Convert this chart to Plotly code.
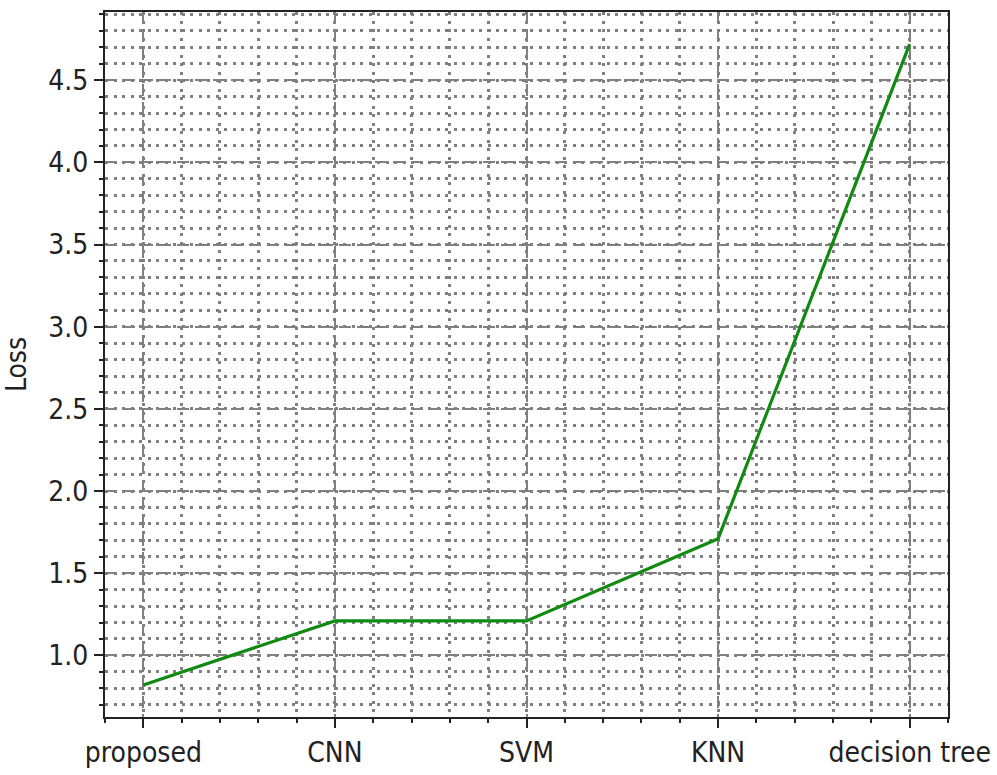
import plotly.graph_objects as go

# Loss per model
models = ["proposed", "CNN", "SVM", "KNN", "decision tree"]
loss = [0.82, 1.21, 1.21, 1.71, 4.72]
y_ticks = [1.0, 1.5, 2.0, 2.5, 3.0, 3.5, 4.0, 4.5]

x_pos = list(range(len(models)))

# matplotlib-style 5% padding around the data
x_pad = 0.05 * (x_pos[-1] - x_pos[0])
y_pad = 0.05 * (max(loss) - min(loss))
x_range = [x_pos[0] - x_pad, x_pos[-1] + x_pad]
y_range = [min(loss) - y_pad, max(loss) + y_pad]

FONT = "DejaVu Sans Condensed, DejaVu Sans"
GRID = "#808080"
INK = "#222222"

fig = go.Figure()
fig.add_trace(go.Scatter(
    x=x_pos, y=loss, mode="lines",
    line=dict(color="#108a10", width=3.2),
    showlegend=False,
))

axis_common = dict(
    showline=True, linecolor=INK, linewidth=2, mirror=True,
    ticks="outside", ticklen=9, tickwidth=1.5, tickcolor=INK,
    showgrid=True, gridcolor=GRID, gridwidth=2, griddash="12px,6px",
    zeroline=False, automargin=False,
    tickfont=dict(family=FONT, size=28, color=INK),
    ticklabeloverflow="allow",
)

minor_common = dict(showgrid=True, gridcolor=GRID, gridwidth=2.5,
                    griddash="3px,5.5px", ticks="outside",
                    ticklen=4, tickwidth=1.5, tickcolor=INK)

fig.update_xaxes(
    **axis_common,
    range=x_range,
    tickmode="array", tickvals=x_pos, ticktext=models,
    minor=dict(dtick=0.2, tick0=0, **minor_common),
)
fig.update_yaxes(
    **axis_common,
    range=y_range,
    tickmode="array", tickvals=y_ticks,
    ticktext=[f"{v:.1f}" for v in y_ticks],
    minor=dict(dtick=0.1, tick0=0, **minor_common),
    title=dict(text="Loss", font=dict(family=FONT, size=28, color=INK),
               standoff=16),
)

fig.update_layout(
    width=997, height=775,
    margin=dict(l=105, r=49, t=12, b=58),
    plot_bgcolor="white", paper_bgcolor="white",
)

fig.write_html("out.html")
